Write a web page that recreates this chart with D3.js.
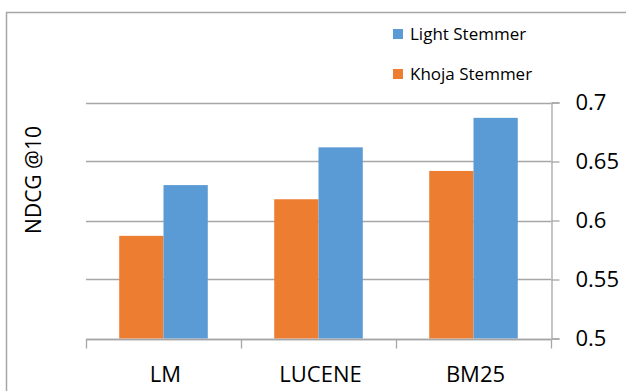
<!DOCTYPE html>
<html>
<head>
<meta charset="utf-8">
<script src="https://cdn.jsdelivr.net/npm/d3@7"></script>
<style>
  html, body { margin: 0; padding: 0; background: #fff; }
  svg { display: block; }
  text { font-family: "Open Sans", "Liberation Sans", sans-serif; fill: #000; }
</style>
</head>
<body>
<svg id="chart" width="626" height="391"></svg>
<script>
// Retrieval models on the x axis
const categories = ["LM", "LUCENE", "BM25"];
// NDCG@10 per stemmer
const khojaValues = [0.587, 0.618, 0.642];
const lightValues = [0.630, 0.662, 0.687];
const seriesNames = ["Khoja Stemmer", "Light Stemmer"];
const seriesColors = ["#ED7D31", "#5B9BD5"];
const yTicks = [0.5, 0.55, 0.6, 0.65, 0.7];
const yTickLabels = ["0.5", "0.55", "0.6", "0.65", "0.7"];

const series = [khojaValues, lightValues];

const svg = d3.select("#chart");
const W = 626, H = 391;
const plot = { left: 86, right: 551, top: 102.5, bottom: 338.5 };

// outer frame: only the top and left edges fall inside the canvas
svg.append("rect")
  .attr("x", 6.5).attr("y", 12.5)
  .attr("width", W + 10).attr("height", H + 10)
  .attr("fill", "none").attr("stroke", "#a6a6a6").attr("stroke-width", 1.5);

const x = d3.scaleBand().domain(categories).range([plot.left, plot.right]).paddingInner(0).paddingOuter(0);
const x1 = d3.scaleBand().domain(d3.range(series.length)).range([0, x.bandwidth()])
  .paddingInner(0).paddingOuter(0.75);
const y = d3.scaleLinear().domain([0.5, 0.7]).range([plot.bottom, plot.top]);

// gridlines
svg.append("g").selectAll("line").data(yTicks).join("line")
  .attr("x1", plot.left).attr("x2", plot.right)
  .attr("y1", d => Math.round(y(d)) + 0.5).attr("y2", d => Math.round(y(d)) + 0.5)
  .attr("stroke", "#a6a6a6").attr("stroke-width", 1.3);

// bars
const groups = svg.append("g").selectAll("g").data(categories).join("g")
  .attr("transform", d => `translate(${x(d)},0)`);
groups.selectAll("rect").data((c, i) => series.map((s, k) => ({ k, v: s[i] }))).join("rect")
  .attr("x", d => x1(d.k))
  .attr("width", x1.bandwidth())
  .attr("y", d => y(d.v))
  .attr("height", d => y(0.5) - y(d.v))
  .attr("fill", d => seriesColors[d.k]);

// right value axis
const yAxis = svg.append("g")
  .attr("transform", `translate(${plot.right + 0.5},0)`)
  .call(d3.axisRight(y).tickValues(yTicks).tickFormat((d, i) => yTickLabels[i]).tickSize(8).tickPadding(16));
yAxis.select(".domain").attr("stroke", "#a6a6a6").attr("stroke-width", 1.3);
yAxis.selectAll(".tick line").attr("stroke", "#a6a6a6").attr("stroke-width", 1.3);
yAxis.selectAll(".tick text").attr("font-size", 22).attr("font-family", "'Open Sans', sans-serif").attr("fill", "#000");

// bottom category axis with ticks between categories
const xAxis = svg.append("g").attr("transform", `translate(0,${Math.round(y(0.5)) + 0.5})`);
xAxis.append("line").attr("x1", plot.left).attr("x2", plot.right)
  .attr("stroke", "#a6a6a6").attr("stroke-width", 1.3);
const boundaries = categories.map(c => x(c)).concat([plot.right]);
xAxis.selectAll("line.tk").data(boundaries).join("line").attr("class", "tk")
  .attr("x1", d => d + 0.5).attr("x2", d => d + 0.5).attr("y1", 0).attr("y2", 9)
  .attr("stroke", "#a6a6a6").attr("stroke-width", 1.3);
xAxis.selectAll("text").data(categories).join("text")
  .attr("x", d => x(d) + x.bandwidth() / 2 + 2).attr("y", 42.5)
  .attr("text-anchor", "middle").attr("font-size", 22).text(d => d);

// y axis title
svg.append("text")
  .attr("transform", "translate(41,180) rotate(-90)")
  .attr("text-anchor", "middle").attr("font-size", 21).text("NDCG @10");

// legend (Light on top, Khoja below)
const legendItems = [
  { name: seriesNames[1], color: seriesColors[1], y: 29 },
  { name: seriesNames[0], color: seriesColors[0], y: 69 }
];
const lg = svg.append("g").selectAll("g").data(legendItems).join("g")
  .attr("transform", d => `translate(393,${d.y})`);
lg.append("rect").attr("width", 10).attr("height", 10).attr("fill", d => d.color);
lg.append("text").attr("x", 17).attr("y", 11).attr("font-size", 17).text(d => d.name);
</script>
</body>
</html>
